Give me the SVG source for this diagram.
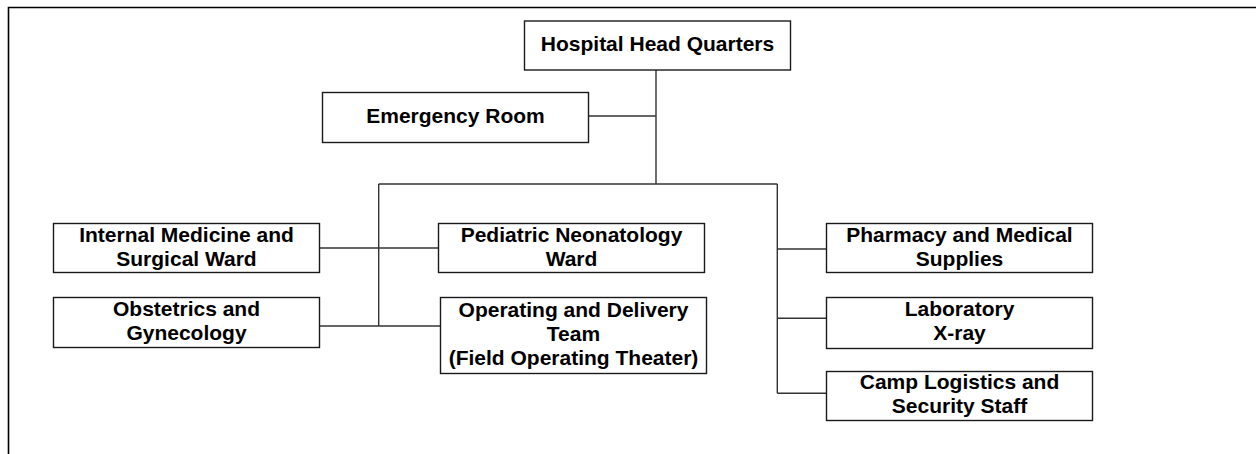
<svg xmlns="http://www.w3.org/2000/svg" width="1256" height="454" viewBox="0 0 1256 454">
<style>
.box{fill:#fff;stroke:#1a1a1a;stroke-width:1.4}
.lbl{font-family:"Liberation Sans",Arial,sans-serif;font-weight:bold;font-size:21px;fill:#000;text-anchor:middle}
.con{fill:none;stroke:#333;stroke-width:1.4}
</style>
<rect x="0" y="0" width="1256" height="454" fill="#fff"/>
<path d="M8.5 454 V7.5 H1256" fill="none" stroke="#000" stroke-width="1.6"/>
<g id="connectors">
<path class="con" d="M656 70 V184"/>
<path class="con" d="M588.5 116 H656"/>
<path class="con" d="M378.7 184 H777.3"/>
<path class="con" d="M378.7 184 V326"/>
<path class="con" d="M319.5 248 H438.5"/>
<path class="con" d="M319.5 326 H440.5"/>
<path class="con" d="M777.3 184 V393.3"/>
<path class="con" d="M777.3 249 H826.5"/>
<path class="con" d="M777.3 318.3 H826.5"/>
<path class="con" d="M777.3 393.3 H826.5"/>
</g>
<g id="hq">
<rect class="box" x="524.5" y="21" width="266" height="49"/>
<text class="lbl" x="657.5" y="51">Hospital Head Quarters</text>
</g>
<g id="er">
<rect class="box" x="322.5" y="92.5" width="266" height="50"/>
<text class="lbl" x="455.5" y="123">Emergency Room</text>
</g>
<g id="internal">
<rect class="box" x="53.5" y="223.5" width="266" height="49"/>
<text class="lbl" x="186.5" y="241.7">Internal Medicine and</text>
<text class="lbl" x="186.5" y="265.7">Surgical Ward</text>
</g>
<g id="obstetrics">
<rect class="box" x="53.5" y="297.5" width="266" height="50"/>
<text class="lbl" x="186.5" y="316">Obstetrics and</text>
<text class="lbl" x="186.5" y="339.5">Gynecology</text>
</g>
<g id="pediatric">
<rect class="box" x="438.5" y="223.5" width="266" height="49"/>
<text class="lbl" x="571.5" y="241.7">Pediatric Neonatology</text>
<text class="lbl" x="571.5" y="265.7">Ward</text>
</g>
<g id="operating">
<rect class="box" x="440.5" y="297.5" width="266" height="76"/>
<text class="lbl" x="573.5" y="317.3">Operating and Delivery</text>
<text class="lbl" x="573.5" y="341.3">Team</text>
<text class="lbl" x="573.5" y="365.3">(Field Operating Theater)</text>
</g>
<g id="pharmacy">
<rect class="box" x="826.5" y="223.5" width="266" height="49"/>
<text class="lbl" x="959.5" y="241.7">Pharmacy and Medical</text>
<text class="lbl" x="959.5" y="265.5">Supplies</text>
</g>
<g id="laboratory">
<rect class="box" x="826.5" y="297.5" width="266" height="51"/>
<text class="lbl" x="959.5" y="316">Laboratory</text>
<text class="lbl" x="959.5" y="339.5">X-ray</text>
</g>
<g id="camp">
<rect class="box" x="826.5" y="371.5" width="266" height="49"/>
<text class="lbl" x="959.5" y="389.3">Camp Logistics and</text>
<text class="lbl" x="959.5" y="412.5">Security Staff</text>
</g>
</svg>
